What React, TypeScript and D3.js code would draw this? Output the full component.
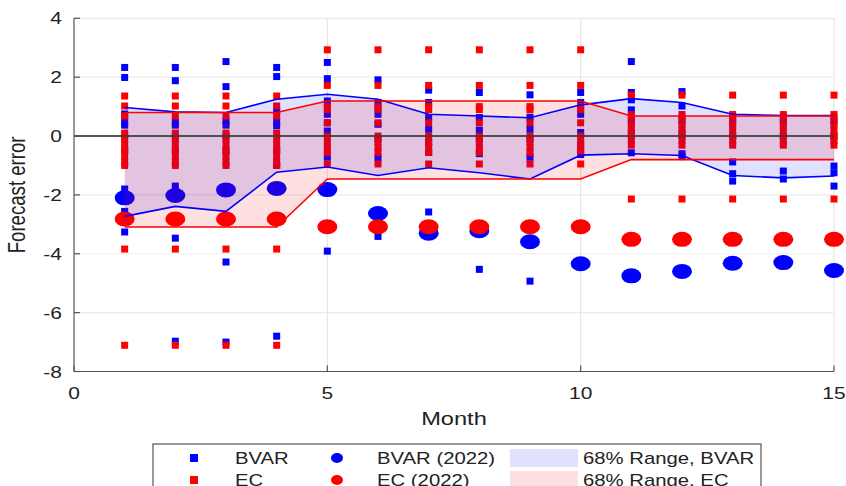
import React from "react";
import * as d3 from "d3";

const months = [1, 2, 3, 4, 5, 6, 7, 8, 9, 10, 11, 12, 13, 14, 15];

const bvar2022 = [-2.1, -2.02, -1.83, -1.78, -1.82, -2.63, -3.3, -3.22, -3.59, -4.34, -4.75, -4.6, -4.32, -4.3, -4.57];
const ec2022 = [-2.82, -2.82, -2.82, -2.82, -3.08, -3.08, -3.08, -3.08, -3.08, -3.08, -3.51, -3.51, -3.51, -3.51, -3.51];

const bvarUpper = [0.97, 0.82, 0.8, 1.25, 1.42, 1.25, 0.74, 0.68, 0.62, 1.06, 1.27, 1.14, 0.74, 0.7, 0.7];
const bvarLower = [-2.73, -2.39, -2.56, -1.23, -1.05, -1.34, -1.08, -1.25, -1.46, -0.65, -0.6, -0.66, -1.34, -1.42, -1.36];
const ecUpper = [0.8, 0.8, 0.8, 0.8, 1.19, 1.19, 1.19, 1.19, 1.19, 1.19, 0.68, 0.68, 0.68, 0.68, 0.68];
const ecLower = [-3.09, -3.09, -3.09, -3.09, -1.46, -1.46, -1.46, -1.46, -1.46, -1.46, -0.8, -0.8, -0.8, -0.8, -0.8];

const bvarErrors = [
  [2.33, 1.99, 0.75, 0.51, 0.37, 0.0, -0.5, -1.8, -2.56, -3.26],
  [2.33, 1.88, 0.5, 0.37, 0.0, -0.5, -1.7, -3.47, -6.97],
  [2.53, 1.68, 0.5, 0.37, 0.0, -0.5, -4.28, -7.0],
  [2.33, 2.02, 0.85, 0.5, 0.35, -0.5, -1.0, -6.8],
  [2.5, 1.95, 1.19, 0.74, 0.45, 0.17, -0.72, -3.91],
  [1.91, 1.14, 0.74, 0.4, -0.1, -0.74, -3.41],
  [1.56, 1.14, 0.63, 0.23, -0.23, -0.55, -2.58],
  [1.48, 0.63, 0.2, -0.1, -0.6, -4.53],
  [1.4, 0.64, 0.23, -0.1, -0.72, -4.93],
  [1.48, 1.14, 0.74, 0.12, -0.3, -0.63],
  [2.53, 1.48, 1.23, 0.89, 0.5, 0.1, -0.57],
  [1.51, 1.02, 0.5, 0.1, -0.6, -0.7],
  [0.5, 0.0, -0.88, -1.28, -1.53],
  [0.5, 0.0, -1.19, -1.46],
  [0.5, 0.0, -1.02, -1.25, -1.7],
];

const ecErrors = [
  [1.36, 1.02, 0.68, 0.1, -0.1, -0.3, -0.5, -0.7, -0.88, -1.0, -3.84, -7.11],
  [1.36, 1.02, 0.68, 0.1, -0.1, -0.3, -0.5, -0.7, -0.88, -1.0, -3.84, -7.11],
  [1.36, 1.02, 0.68, 0.1, -0.1, -0.3, -0.5, -0.7, -0.88, -1.0, -3.84, -7.11],
  [1.36, 1.02, 0.68, 0.1, -0.1, -0.3, -0.5, -0.7, -0.88, -1.0, -3.84, -7.11],
  [2.93, 1.72, 1.0, 0.9, 0.45, 0.0, -0.2, -0.4, -0.56, -0.95],
  [2.93, 1.72, 1.0, 0.9, 0.45, 0.0, -0.2, -0.4, -0.56, -0.95],
  [2.93, 1.72, 1.0, 0.9, 0.45, 0.0, -0.2, -0.4, -0.56, -0.95],
  [2.93, 1.72, 1.0, 0.9, 0.45, 0.0, -0.2, -0.4, -0.56, -0.95],
  [2.93, 1.72, 1.0, 0.9, 0.45, 0.0, -0.2, -0.4, -0.56, -0.95],
  [2.93, 1.72, 1.0, 0.9, 0.45, 0.0, -0.2, -0.4, -0.56, -0.95],
  [1.39, 0.73, 0.62, 0.38, 0.2, 0.0, -0.15, -0.31, -2.14],
  [1.39, 0.73, 0.62, 0.38, 0.2, 0.0, -0.15, -0.31, -2.14],
  [1.39, 0.73, 0.62, 0.38, 0.2, 0.0, -0.15, -0.31, -2.14],
  [1.39, 0.73, 0.62, 0.38, 0.2, 0.0, -0.15, -0.31, -2.14],
  [1.39, 0.73, 0.62, 0.38, 0.2, 0.0, -0.15, -0.31, -2.14],
];

const xTicks = [0, 5, 10, 15];
const yTicks = [-8, -6, -4, -2, 0, 2, 4];

const legendRows = [
  { sq: "BVAR", circ: "BVAR (2022)", band: "68% Range, BVAR", color: "#0000ff", fill: "rgba(0,0,255,0.12)" },
  { sq: "EC", circ: "EC (2022)", band: "68% Range, EC", color: "#ff0000", fill: "rgba(255,0,0,0.12)" },
];

const W = 846;
const H = 486;
const FONT = "'Liberation Sans', Arial, Helvetica, sans-serif";
const SX = 1.27;

export default function App() {
  const x = d3.scaleLinear().domain([0, 15]).range([74, 834]);
  const y = d3.scaleLinear().domain([-8, 4]).range([371.5, 18.3]);

  const area = (up: number[], lo: number[]) =>
    d3
      .area<number>()
      .x((m) => x(m))
      .y0((_, i) => y(lo[i]))
      .y1((_, i) => y(up[i]))(months) || "";
  const line = (vals: number[]) =>
    d3
      .line<number>()
      .x((m) => x(m))
      .y((_, i) => y(vals[i]))(months) || "";

  const sq = 7;
  const stretchText = (
    tx: number,
    ty: number,
    txt: string,
    size: number,
    anchor: string,
    key?: string
  ) => (
    <text
      key={key}
      transform={`translate(${tx},${ty}) scale(${SX},1)`}
      fontSize={size}
      fontFamily={FONT}
      textAnchor={anchor}
      fill="#222"
    >
      {txt}
    </text>
  );

  return (
    <svg width={W} height={H} style={{ position: "absolute", left: 0, top: 0, background: "#fff" }}>
      {/* grid */}
      {yTicks.filter((t) => t !== -8).map((t) => (
        <line key={"gy" + t} x1={x(0)} x2={x(15)} y1={y(t)} y2={y(t)} stroke="#ebebeb" strokeWidth={1.2} />
      ))}
      {xTicks.filter((t) => t !== 0).map((t) => (
        <line key={"gx" + t} x1={x(t)} x2={x(t)} y1={y(4)} y2={y(-8)} stroke="#e6e6e6" strokeWidth={1.2} />
      ))}

      {/* squares */}
      {bvarErrors.map((vals, i) =>
        vals.map((v, j) => (
          <rect key={`b${i}-${j}`} x={x(months[i]) - sq / 2} y={y(v) - sq / 2} width={sq} height={sq} fill="#0000ff" />
        ))
      )}
      {ecErrors.map((vals, i) =>
        vals.map((v, j) => (
          <rect key={`e${i}-${j}`} x={x(months[i]) - sq / 2} y={y(v) - sq / 2} width={sq} height={sq} fill="#ff0000" />
        ))
      )}

      {/* 2022 ellipses */}
      {bvar2022.map((v, i) => (
        <ellipse key={"bc" + i} cx={x(months[i])} cy={y(v)} rx={10} ry={7.5} fill="#0000ff" />
      ))}
      {ec2022.map((v, i) => (
        <ellipse key={"ec" + i} cx={x(months[i])} cy={y(v)} rx={10} ry={7.5} fill="#ff0000" />
      ))}

      {/* bands */}
      <path d={area(bvarUpper, bvarLower)} fill="rgba(0,0,255,0.12)" />
      <path d={area(ecUpper, ecLower)} fill="rgba(255,0,0,0.12)" />

      {/* zero line */}
      <line x1={x(0)} x2={x(15)} y1={y(0)} y2={y(0)} stroke="#3a3a3a" strokeOpacity={0.85} strokeWidth={2} />

      {/* band lines */}
      <path d={line(bvarUpper)} fill="none" stroke="#0000ff" strokeWidth={1.6} />
      <path d={line(bvarLower)} fill="none" stroke="#0000ff" strokeWidth={1.6} />
      <path d={line(ecUpper)} fill="none" stroke="#ff0000" strokeWidth={1.6} />
      <path d={line(ecLower)} fill="none" stroke="#ff0000" strokeWidth={1.6} />

      {/* axes */}
      <line x1={x(0)} x2={x(0)} y1={y(4)} y2={y(-8)} stroke="#555" strokeWidth={1.2} />
      <line x1={x(0)} x2={x(15)} y1={y(-8)} y2={y(-8)} stroke="#555" strokeWidth={1.2} />
      {yTicks.map((t) => (
        <g key={"yt" + t}>
          <line x1={x(0)} x2={x(0) + 6} y1={y(t)} y2={y(t)} stroke="#555" strokeWidth={1.2} />
          {stretchText(62, y(t) + 6, String(t), 16.5, "end")}
        </g>
      ))}
      {xTicks.map((t) => (
        <g key={"xt" + t}>
          <line x1={x(t)} x2={x(t)} y1={y(-8)} y2={y(-8) - 6} stroke="#555" strokeWidth={1.2} />
          {stretchText(x(t), 398.5, String(t), 16.5, "middle")}
        </g>
      ))}
      {stretchText(x(7.5), 425, "Month", 18.6, "middle")}
      <text
        transform={`translate(25,${y(-2)}) rotate(-90) scale(1,1.25)`}
        fontSize={18.6}
        fontFamily={FONT}
        textAnchor="middle"
        fill="#222"
      >
        Forecast error
      </text>

      {/* legend */}
      <rect x={153} y={444} width={608} height={60} fill="#fff" stroke="#333" strokeWidth={1} />
      {legendRows.map((r, i) => {
        const cy = 458 + i * 22;
        return (
          <g key={"lg" + i}>
            <rect x={194 - 4} y={cy - 4} width={8} height={8} fill={r.color} />
            {stretchText(235, cy + 6, r.sq, 16, "start")}
            <ellipse cx={337} cy={cy} rx={6} ry={5} fill={r.color} />
            {stretchText(377, cy + 6, r.circ, 16, "start")}
            <rect x={510} y={cy - 9} width={68} height={18} fill={r.fill} />
            {stretchText(583, cy + 6, r.band, 16, "start")}
          </g>
        );
      })}
    </svg>
  );
}
